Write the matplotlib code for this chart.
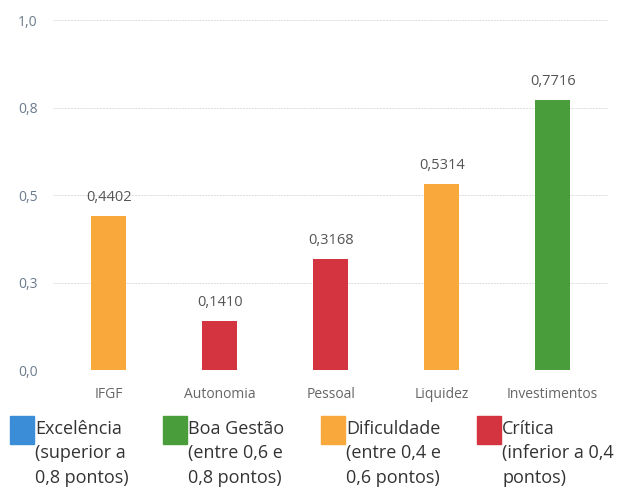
import matplotlib.pyplot as plt
from matplotlib.patches import Rectangle

plt.rcParams['font.family'] = ['Open Sans', 'DejaVu Sans']

# dados
categorias = ['IFGF', 'Autonomia', 'Pessoal', 'Liquidez', 'Investimentos']
valores = [0.4402, 0.1410, 0.3168, 0.5314, 0.7716]
rotulos = ['0,4402', '0,1410', '0,3168', '0,5314', '0,7716']
cores = ['#F9A83C', '#D33440', '#D33440', '#F9A83C', '#4A9D3B']

yticks = [0.0, 0.25, 0.5, 0.75, 1.0]
ytick_labels = ['0,0', '0,3', '0,5', '0,8', '1,0']

leg_cores = ['#3A8DD6', '#4A9D3B', '#F9A83C', '#D33440']
leg_textos = ['Excelência\n(superior a\n0,8 pontos)',
              'Boa Gestão\n(entre 0,6 e\n0,8 pontos)',
              'Dificuldade\n(entre 0,4 e\n0,6 pontos)',
              'Crítica\n(inferior a 0,4\npontos)']

fig = plt.figure(figsize=(6.25, 4.95), dpi=100)
ax = fig.add_axes([0.085, 0.2525, 0.888, 0.707])

x = range(len(categorias))
ax.bar(x, valores, width=0.32, color=cores, zorder=3)

for i, v in enumerate(valores):
    ax.annotate(rotulos[i], (i, v), xytext=(0, 8), textcoords='offset points',
                ha='center', va='bottom', fontsize=10.5, color='#555555')

ax.set_xlim(-0.5, 4.5)
ax.set_ylim(0, 1.0)
ax.set_xticks(list(x))
ax.set_xticklabels(categorias, fontsize=10, color='#666666')
ax.set_yticks(yticks)
ax.set_yticklabels(ytick_labels, fontsize=10, color='#6B7B8C')
ax.tick_params(axis='both', length=0)
ax.tick_params(axis='x', pad=12)
ax.tick_params(axis='y', pad=11)
ax.grid(axis='y', color='#DDDDDD', linestyle=(0, (2, 1)), linewidth=0.7, zorder=0)
for s in ax.spines.values():
    s.set_visible(False)

# legenda manual
leg_x = [10, 163, 321, 477]
for cx, c, t in zip(leg_x, leg_cores, leg_textos):
    fig.patches.append(Rectangle((cx / 625, 1 - 444 / 495), 24 / 625, 28 / 495,
                                 transform=fig.transFigure, color=c, figure=fig))
    fig.text((cx + 25) / 625, 1 - 420 / 495, t, fontsize=13, color='#333333',
             va='top', ha='left', linespacing=1.45)

fig.savefig('out.png', dpi=100)
